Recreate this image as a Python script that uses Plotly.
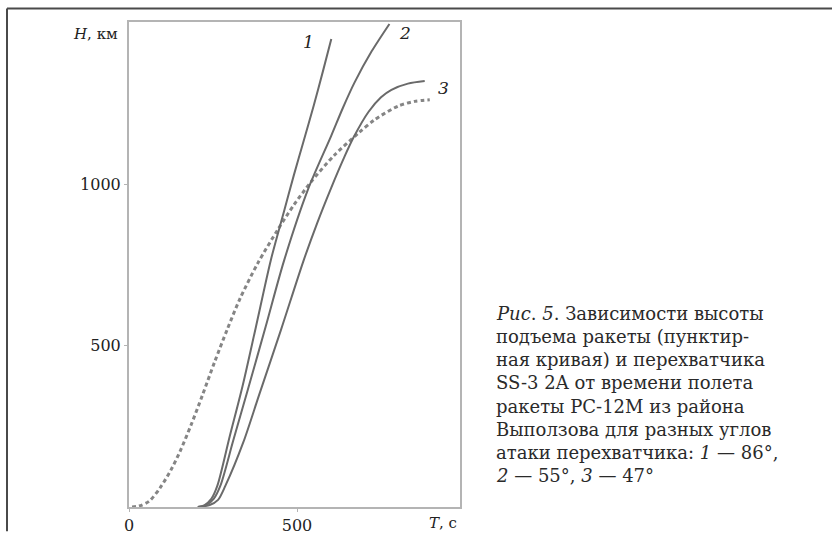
import plotly.graph_objects as go

# ---- data ----
rocket_T = [9, 30, 60, 93, 125, 153, 185, 218, 255, 293, 330, 383, 443, 490, 542, 611, 682, 731, 802, 850, 895]
rocket_H = [0, 3, 18, 60, 115, 175, 255, 345, 450, 552, 645, 755, 860, 935, 1008, 1090, 1158, 1200, 1243, 1257, 1262]

c1_T = [205, 225, 245, 263, 300, 338, 377, 422, 461, 491, 518, 550, 577, 602]
c1_H = [0, 6, 25, 66, 220, 375, 555, 765, 915, 1030, 1128, 1245, 1350, 1450]

c2_T = [205, 230, 252, 272, 310, 354, 407, 461, 533, 602, 637, 671, 722, 775]
c2_H = [0, 6, 25, 66, 205, 365, 560, 762, 985, 1151, 1238, 1315, 1412, 1497]

c3_T = [205, 240, 265, 287, 340, 388, 452, 518, 560, 602, 641, 668, 713, 750, 781, 830, 880]
c3_H = [0, 6, 22, 66, 200, 350, 548, 759, 880, 990, 1085, 1145, 1225, 1270, 1293, 1312, 1320]

curve_labels = ["1", "2", "3"]
label_T = [533, 822, 935]
label_H = [1440, 1470, 1300]

x_ticks = [0, 500]
y_ticks = [500, 1000]

caption_lines = [
    "<i>Рис</i>. <i>5</i>. Зависимости высоты",
    "подъема ракеты (пунктир-",
    "ная кривая) и перехватчика",
    "SS-3 2A от времени полета",
    "ракеты РС-12М из района",
    "Выползова для разных углов",
    "атаки перехватчика: <i>1</i> — 86°,",
    "<i>2</i> — 55°, <i>3</i> — 47°",
]

# ---- layout geometry ----
W, H = 832, 547
L, R, T, B = 129, 460, 22, 522
X_MAX, Y_MAX = 985, 1503
FONT = "DejaVu Serif"
SOLID = "#6a6a6a"


def px(xp):
    return (xp - L) / (R - L)


def py(yp):
    return (B - yp) / (B - T)


fig = go.Figure()
fig.add_trace(go.Scatter(x=rocket_T, y=rocket_H, mode="lines",
                         line=dict(color="#858585", width=3, dash="4px,3px", shape="spline", smoothing=0.8),
                         showlegend=False, hoverinfo="skip"))
for tx, hy in [(c1_T, c1_H), (c2_T, c2_H), (c3_T, c3_H)]:
    fig.add_trace(go.Scatter(x=tx, y=hy, mode="lines",
                             line=dict(color=SOLID, width=2, shape="spline", smoothing=0.8),
                             showlegend=False, hoverinfo="skip"))

for lab, lt, lh in zip(curve_labels, label_T, label_H):
    fig.add_annotation(x=lt, y=lh, text="<i>%s</i>" % lab, showarrow=False,
                       font=dict(family=FONT, size=17, color="#222"))

# axis labels
fig.add_annotation(xref="paper", yref="paper", x=px(120), y=py(34), xanchor="right", yanchor="middle",
                   text="<i>H</i>, км", showarrow=False, font=dict(family=FONT, size=15, color="#222"))
fig.add_annotation(xref="paper", yref="paper", x=px(459), y=py(538), xanchor="right", yanchor="middle",
                   text="<i>T</i>, с", showarrow=False, font=dict(family=FONT, size=15, color="#222"))

# caption
for i, line in enumerate(caption_lines):
    fig.add_annotation(xref="paper", yref="paper", x=px(494), y=py(322 + 24 * i),
                       xanchor="left", yanchor="middle", text=line, showarrow=False,
                       font=dict(family=FONT, size=18, color="#2a2a2a"))

# page frame (top and left rules)
fig.add_shape(type="line", xref="paper", yref="paper", x0=px(7), x1=px(832), y0=py(8), y1=py(8),
              line=dict(color="#4a4a4a", width=2))
fig.add_shape(type="line", xref="paper", yref="paper", x0=px(7), x1=px(7), y0=py(8), y1=py(547),
              line=dict(color="#4a4a4a", width=2))

axis_common = dict(showgrid=False, zeroline=False, showline=True, mirror=True,
                   linecolor="#b4b4b4", linewidth=2, ticks="outside", ticklen=3,
                   tickcolor="#b4b4b4", tickwidth=1,
                   tickfont=dict(family=FONT, size=16, color="#222"))

fig.update_xaxes(range=[0, X_MAX], tickvals=x_ticks, ticktext=[str(v) for v in x_ticks], **axis_common)
fig.update_yaxes(range=[0, Y_MAX], tickvals=y_ticks, ticktext=[str(v) for v in y_ticks], **axis_common)

fig.update_layout(width=W, height=H, margin=dict(l=L, r=W - R, t=T, b=H - B),
                  paper_bgcolor="white", plot_bgcolor="white", showlegend=False)

fig.write_html("out.html", config={"displayModeBar": False},
               post_script="document.body.style.margin='0px';document.documentElement.style.overflow='hidden';")
